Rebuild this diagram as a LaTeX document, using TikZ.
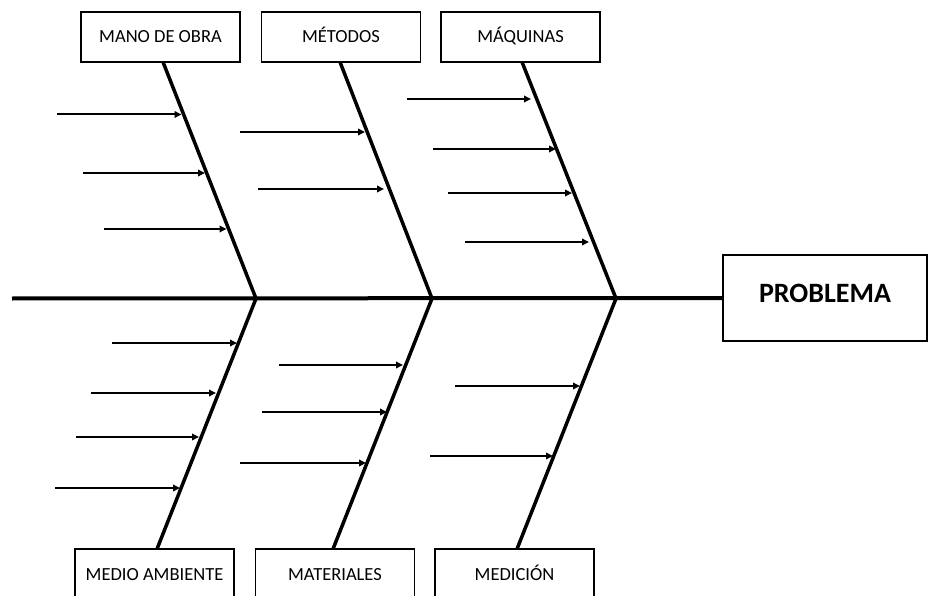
\documentclass[tikz,border=0pt]{standalone}
\usepackage{fontspec}
\setmainfont{Carlito}
\usetikzlibrary{arrows.meta}
\begin{document}
\begin{tikzpicture}[x=1pt,y=-1pt,
  cause/.style={draw, line width=1.5pt, minimum width=159pt, minimum height=50pt, inner sep=0pt, text height=12pt, text depth=0pt, font=\fontsize{18.5}{21}\selectfont},
  effect/.style={draw, line width=2pt, minimum width=204pt, minimum height=86pt, inner sep=0pt, text height=18pt, text depth=10pt, font=\fontsize{28}{31}\selectfont\bfseries},
  bone/.style={line width=3.5pt},
  spine/.style={line width=4pt},
  sub/.style={line width=2pt, -{Triangle[length=7pt,width=6.5pt]}}]
\useasboundingbox (0,0) rectangle (929,596);
% boxes
\node[cause] (mano) at (160.5,37) {MANO DE OBRA};
\node[cause] (metodos) at (341,37) {MÉTODOS};
\node[cause] (maquinas) at (520.5,37) {MÁQUINAS};
\node[cause] (medio) at (154.5,574) {MEDIO AMBIENTE};
\node[cause] (materiales) at (335,574) {MATERIALES};
\node[cause] (medicion) at (514.5,574) {MEDICIÓN};
\node[effect] (problema) at (825,298) {PROBLEMA};
% spine
\coordinate (tail) at (12,298.5);
\draw[spine] (tail) -- (problema.west);
% joints
\coordinate (j1) at (256,298.5);
\coordinate (j2) at (432,298.5);
\coordinate (j3) at (616,298.5);
% branch ends at boxes
\coordinate (u1) at (163,62);
\coordinate (u2) at (340,62);
\coordinate (u3) at (522,62);
\coordinate (d1) at (157,549);
\coordinate (d2) at (333,549);
\coordinate (d3) at (517,549);
\draw[bone] (u1) -- (j1) -- (d1);
\draw[bone] (u2) -- (j2) -- (d2);
\draw[bone] (u3) -- (j3) -- (d3);
% sub-cause arrows
\foreach \n/\xa/\xb/\y in {
  1/57/181.5/114.5, 2/83/205/173, 3/104/226.5/229,
  4/240/365/132, 5/258/384/189,
  6/407/531/99, 7/433/556/149, 8/448/572/193, 9/465/589/242,
  10/112/237/343, 11/91/216/393, 12/76/199/437, 13/55/180/488,
  14/279/403/365, 15/262/387/412, 16/240/366/463,
  17/455/580/386, 18/430/553/456}{
  \coordinate (ta\n) at (\xa,\y);
  \coordinate (tb\n) at (\xb,\y);
  \draw[sub] (ta\n) -- (tb\n);
}
\end{tikzpicture}
\end{document}
